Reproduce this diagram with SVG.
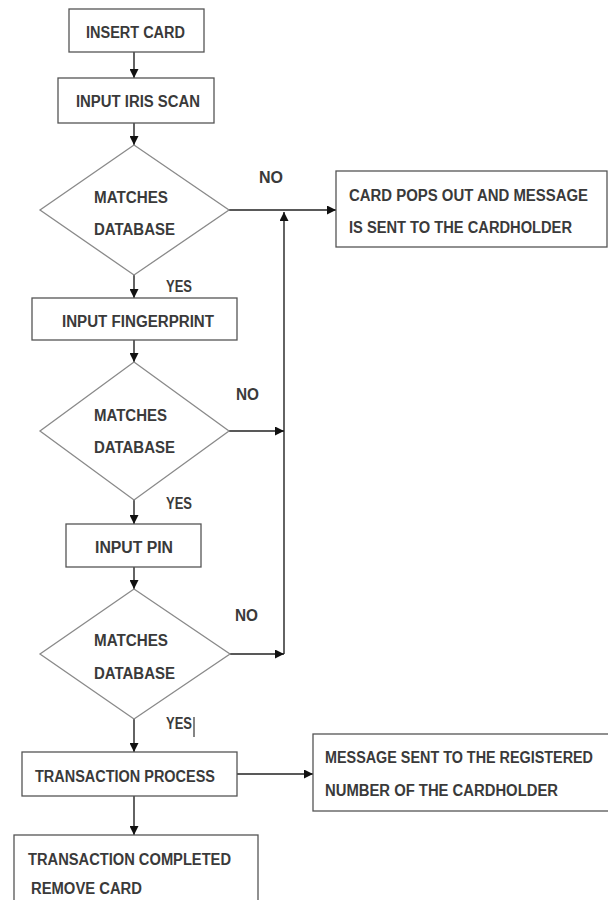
<svg xmlns="http://www.w3.org/2000/svg" width="608" height="900" viewBox="0 0 608 900">
<style>
.box{fill:#fff;stroke:#555;stroke-width:1.3}
.dia{fill:#fff;stroke:#8a8a8a;stroke-width:1.3}
.t{font-family:"Liberation Sans",Arial,sans-serif;font-size:17px;font-weight:bold;fill:#3a3a3a}
.c{stroke:#222;stroke-width:1.4;fill:none}
</style>
<defs>
<marker id="ah" viewBox="0 0 10 10" refX="10" refY="5" markerWidth="9" markerHeight="9" markerUnits="userSpaceOnUse" orient="auto">
<path d="M0,0 L10,5 L0,10 z" fill="#111"/>
</marker>
</defs>
<rect x="0" y="0" width="608" height="900" fill="#fff"/>
<g id="connectors">
<line class="c" x1="134" y1="52" x2="134" y2="78" marker-end="url(#ah)"/>
<line class="c" x1="134" y1="123" x2="134" y2="145" marker-end="url(#ah)"/>
<line class="c" x1="134" y1="275" x2="134" y2="298" marker-end="url(#ah)"/>
<line class="c" x1="134" y1="340" x2="134" y2="362" marker-end="url(#ah)"/>
<line class="c" x1="134" y1="500" x2="134" y2="524" marker-end="url(#ah)"/>
<line class="c" x1="134" y1="567" x2="134" y2="589" marker-end="url(#ah)"/>
<line class="c" x1="134" y1="719" x2="134" y2="752" marker-end="url(#ah)"/>
<line class="c" x1="134" y1="796" x2="134" y2="835" marker-end="url(#ah)"/>
<line class="c" x1="229" y1="210" x2="336" y2="210" marker-end="url(#ah)"/>
<line class="c" x1="284" y1="654" x2="284" y2="212" marker-end="url(#ah)"/>
<line class="c" x1="229" y1="431" x2="284" y2="431" marker-end="url(#ah)"/>
<line class="c" x1="230" y1="654" x2="284" y2="654" marker-end="url(#ah)"/>
<line class="c" x1="237" y1="774" x2="313" y2="774" marker-end="url(#ah)"/>
</g>
<g id="insert_card">
<rect class="box" x="69" y="9" width="135" height="43"/>
<text class="t" transform="scale(0.8,1)" x="107.5" y="38" textLength="123.75" lengthAdjust="spacingAndGlyphs">INSERT CARD</text>
</g>
<g id="input_iris">
<rect class="box" x="58" y="78" width="156" height="45"/>
<text class="t" transform="scale(0.8,1)" x="95" y="107" textLength="155" lengthAdjust="spacingAndGlyphs">INPUT IRIS SCAN</text>
</g>
<g id="match1">
<polygon class="dia" points="134,145 229,210 134,275 40,210"/>
<text class="t" transform="scale(0.8,1)" x="117.5" y="203" textLength="92.5" lengthAdjust="spacingAndGlyphs">MATCHES</text>
<text class="t" transform="scale(0.8,1)" x="117.5" y="235" textLength="101.25" lengthAdjust="spacingAndGlyphs">DATABASE</text>
</g>
<g id="card_pops">
<rect class="box" x="336" y="171" width="271" height="76"/>
<text class="t" transform="scale(0.8,1)" x="436.25" y="201" textLength="298.75" lengthAdjust="spacingAndGlyphs">CARD POPS OUT AND MESSAGE</text>
<text class="t" transform="scale(0.8,1)" x="436.25" y="233" textLength="278.75" lengthAdjust="spacingAndGlyphs">IS SENT TO THE CARDHOLDER</text>
</g>
<g id="input_fp">
<rect class="box" x="32" y="298" width="205" height="42"/>
<text class="t" transform="scale(0.8,1)" x="77.5" y="327" textLength="190" lengthAdjust="spacingAndGlyphs">INPUT FINGERPRINT</text>
</g>
<g id="match2">
<polygon class="dia" points="134,362 229,431 134,500 40,431"/>
<text class="t" transform="scale(0.8,1)" x="117.5" y="421" textLength="91.25" lengthAdjust="spacingAndGlyphs">MATCHES</text>
<text class="t" transform="scale(0.8,1)" x="117.5" y="453" textLength="101.25" lengthAdjust="spacingAndGlyphs">DATABASE</text>
</g>
<g id="input_pin">
<rect class="box" x="66" y="524" width="135" height="43"/>
<text class="t" transform="scale(0.8,1)" x="118.75" y="553" textLength="97.5" lengthAdjust="spacingAndGlyphs">INPUT PIN</text>
</g>
<g id="match3">
<polygon class="dia" points="134,589 230,654 134,719 40,654"/>
<text class="t" transform="scale(0.8,1)" x="117.5" y="646" textLength="92.5" lengthAdjust="spacingAndGlyphs">MATCHES</text>
<text class="t" transform="scale(0.8,1)" x="117.5" y="679" textLength="101.25" lengthAdjust="spacingAndGlyphs">DATABASE</text>
</g>
<g id="transaction">
<rect class="box" x="22" y="752" width="215" height="44"/>
<text class="t" transform="scale(0.8,1)" x="43.75" y="782" textLength="225" lengthAdjust="spacingAndGlyphs">TRANSACTION PROCESS</text>
</g>
<g id="message_sent">
<rect class="box" x="313" y="734" width="300" height="77"/>
<text class="t" transform="scale(0.8,1)" x="406.25" y="763" textLength="335" lengthAdjust="spacingAndGlyphs">MESSAGE SENT TO THE REGISTERED</text>
<text class="t" transform="scale(0.8,1)" x="406.25" y="796" textLength="291.25" lengthAdjust="spacingAndGlyphs">NUMBER OF THE CARDHOLDER</text>
</g>
<g id="completed">
<rect class="box" x="14" y="835" width="244" height="75"/>
<text class="t" transform="scale(0.8,1)" x="35" y="865" textLength="253.75" lengthAdjust="spacingAndGlyphs">TRANSACTION COMPLETED</text>
<text class="t" transform="scale(0.8,1)" x="38.75" y="894" textLength="138.75" lengthAdjust="spacingAndGlyphs">REMOVE CARD</text>
</g>
<g id="labels">
<text class="t" transform="scale(0.8,1)" x="323.75" y="183" textLength="30" lengthAdjust="spacingAndGlyphs">NO</text>
<text class="t" transform="scale(0.8,1)" x="207.5" y="292" textLength="32.5" lengthAdjust="spacingAndGlyphs">YES</text>
<text class="t" transform="scale(0.8,1)" x="295" y="400" textLength="28.75" lengthAdjust="spacingAndGlyphs">NO</text>
<text class="t" transform="scale(0.8,1)" x="207.5" y="509" textLength="32.5" lengthAdjust="spacingAndGlyphs">YES</text>
<text class="t" transform="scale(0.8,1)" x="293.75" y="621" textLength="28.75" lengthAdjust="spacingAndGlyphs">NO</text>
<text class="t" transform="scale(0.8,1)" x="207.5" y="729" textLength="32.5" lengthAdjust="spacingAndGlyphs">YES</text>
<line x1="194" y1="717" x2="194" y2="737" stroke="#333" stroke-width="1.2"/>
</g>
</svg>
